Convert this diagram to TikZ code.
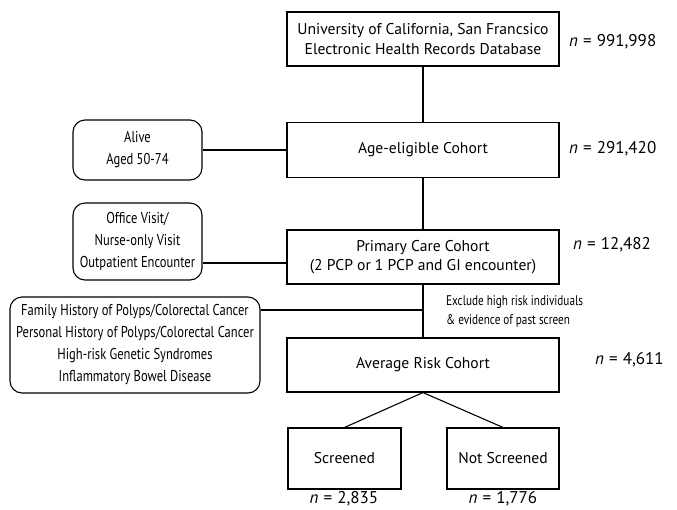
\documentclass[tikz,border=0pt]{standalone}
\usepackage{fontspec}
\setmainfont{PT Sans}
\newfontfamily\condfont[FakeStretch=0.8]{PT Sans}
\newcommand{\nval}[1]{\textit{n}\hspace{0.3em}=\hspace{0.3em}#1}
\begin{document}
\begin{tikzpicture}[x=1pt,y=-1pt,
  mainbox/.style={draw, line width=1.1pt, minimum width=272pt, align=center, font=\fontsize{15.6}{19.5}\selectfont, inner sep=0pt},
  sidebox/.style={draw, line width=1.1pt, rounded corners=12pt, align=center, font=\condfont\fontsize{15.7}{22}\selectfont, inner sep=0pt},
  nlabel/.style={font=\fontsize{17}{18}\selectfont, inner sep=0pt},
  conn/.style={line width=1.1pt}]
\useasboundingbox (0,0) rectangle (677,509);
% main column
\node[mainbox, minimum height=54pt] (db) at (423,39) {University of California, San Francsico\\Electronic Health Records Database};
\node[mainbox, minimum height=55pt] (age) at (423,150) {Age-eligible Cohort};
\node[mainbox, minimum height=54pt] (pc) at (423,257) {Primary Care Cohort\\(2 PCP or 1 PCP and GI encounter)};
\node[mainbox, minimum height=54pt] (avg) at (423,365) {Average Risk Cohort};
\node[mainbox, minimum width=113pt, minimum height=61pt] (scr) at (344.5,458.5) {Screened};
\node[mainbox, minimum width=112pt, minimum height=61pt] (nscr) at (503,458.5) {Not Screened};
% side boxes
\node[sidebox, minimum width=129pt, minimum height=60pt] (alive) at (137.5,150) {Alive\\Aged 50-74};
\node[sidebox, minimum width=129pt, minimum height=77pt] (office) at (137.5,241.5) {Office Visit/\\Nurse-only Visit\\Outpatient Encounter};
\node[sidebox, minimum width=250pt, minimum height=96pt] (fam) at (135,345) {Family History of Polyps/Colorectal Cancer\\Personal History of Polyps/Colorectal Cancer\\High-risk Genetic Syndromes\\Inflammatory Bowel Disease};
% labels
\node[anchor=west, align=left, font=\condfont\fontsize{14}{19}\selectfont, inner sep=0pt] (excl) at (446,311) {Exclude high risk individuals\\\& evidence of past screen};
\node[nlabel, anchor=west] (n1) at (569,42) {\nval{991,998}};
\node[nlabel, anchor=west] (n2) at (569,149) {\nval{291,420}};
\node[nlabel, anchor=west] (n3) at (573,245) {\nval{12,482}};
\node[nlabel, anchor=west] (n4) at (595,360) {\nval{4,611}};
\node[nlabel] (n5) at (344,499) {\nval{2,835}};
\node[nlabel] (n6) at (503,499) {\nval{1,776}};
% connectors
\coordinate (j2) at (287,263);
\coordinate (j3) at (423,310);
\draw[conn] (db.south) -- (age.north);
\draw[conn] (age.south) -- (pc.north);
\draw[conn] (pc.south) -- (avg.north);
\draw[conn] (avg.south) -- (scr.north);
\draw[conn] (avg.south) -- (nscr.north);
\draw[conn] (alive.east) -- (age.west);
\draw[conn] (office.east |- j2) -- (j2);
\draw[conn] (fam.east |- j3) -- (j3);
\end{tikzpicture}
\end{document}
